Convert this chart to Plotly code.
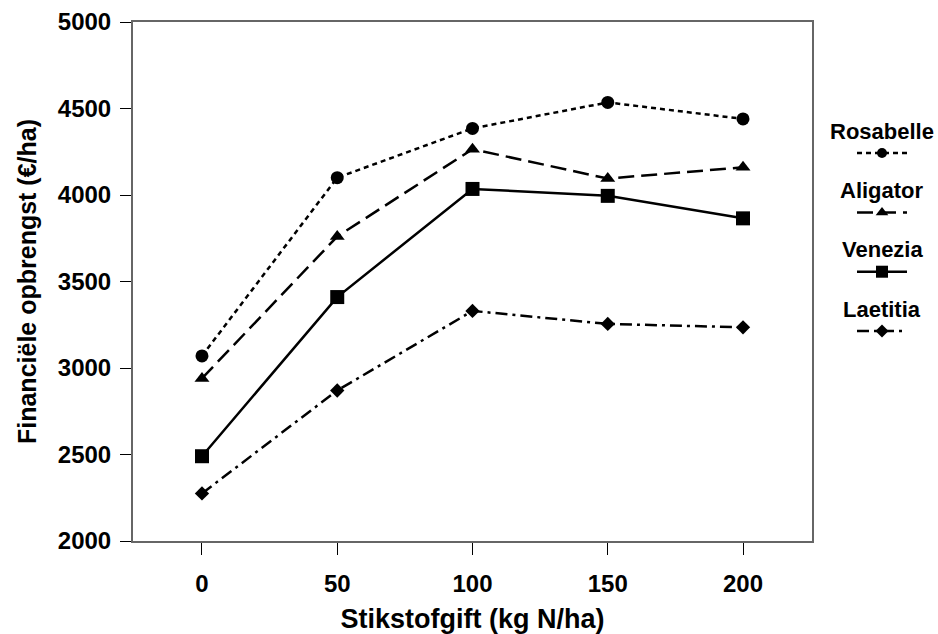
import plotly.graph_objects as go

# Nitrogen rates (kg N/ha) and financial yield per variety (EUR/ha)
stikstofgift = [0, 50, 100, 150, 200]
rasnamen = ["Rosabelle", "Aligator", "Venezia", "Laetitia"]
rosabelle = [3070, 4100, 4385, 4535, 4440]
aligator = [2940, 3760, 4265, 4095, 4160]
venezia = [2490, 3410, 4035, 3995, 3865]
laetitia = [2275, 2870, 3330, 3255, 3235]
y_ticks = [2000, 2500, 3000, 3500, 4000, 4500, 5000]

series = [rosabelle, aligator, venezia, laetitia]
styles = [
    dict(dash="5px,4px", symbol="circle", size=13, legsize=10),
    dict(dash="16px,7px", symbol="triangle-up", size=13, legsize=11),
    dict(dash="solid", symbol="square", size=14, legsize=12),
    dict(dash="12px,5px,3px,5px", symbol="diamond", size=11, legsize=10),
]

FONT = "Liberation Sans, Arial, sans-serif"
W, H = 938, 634
L, R, T, B = 133, 20, 22, 93
plot_w = W - L - R
main_right = 812
leg_left, leg_right = 857, 907

fig = go.Figure()

for name, vals, st in zip(rasnamen, series, styles):
    fig.add_trace(go.Scatter(
        x=stikstofgift, y=vals, name=name, mode="lines+markers",
        line=dict(color="black", width=2.5, dash=st["dash"]),
        marker=dict(symbol=st["symbol"], size=st["size"], color="black"),
        showlegend=False,
    ))

# Legend: name above a short line sample with the series marker
for i, (name, st) in enumerate(zip(rasnamen, styles)):
    fig.add_trace(go.Scatter(
        x=[0, 1], y=[i, i], mode="lines", xaxis="x2", yaxis="y2",
        line=dict(color="black", width=2.5, dash=st["dash"]),
        showlegend=False, hoverinfo="skip",
    ))
    fig.add_trace(go.Scatter(
        x=[0.5], y=[i], mode="markers", xaxis="x2", yaxis="y2",
        marker=dict(symbol=st["symbol"], size=st["legsize"], color="black"),
        showlegend=False, hoverinfo="skip",
    ))
    fig.add_annotation(
        x=0.5, y=i - 0.37, xref="x2", yref="y2", text=name, showarrow=False,
        font=dict(family=FONT, size=22, color="black", weight="bold"),
        xanchor="center", yanchor="middle",
    )

fig.update_layout(
    width=W, height=H,
    margin=dict(l=L, r=R, t=T, b=B, autoexpand=False),
    paper_bgcolor="white", plot_bgcolor="white",
    font=dict(family=FONT, color="black"),
    xaxis=dict(
        domain=[0, (main_right - L) / plot_w],
        range=[-25.5, 225.5],
        tickvals=stikstofgift,
        ticks="outside", ticklen=12, tickwidth=1, tickcolor="black",
        showline=True, linecolor="#666666", linewidth=2, mirror=True,
        showgrid=False, zeroline=False, automargin=False,
        tickfont=dict(family=FONT, size=24, color="black", weight="bold"),
        ticklabelstandoff=8,
        title=dict(text="Stikstofgift (kg N/ha)", standoff=28,
                   font=dict(family=FONT, size=27, color="black", weight="bold")),
    ),
    yaxis=dict(
        range=[2000, 5000],
        tickvals=y_ticks,
        ticks="outside", ticklen=11, tickwidth=1, tickcolor="black",
        showline=True, linecolor="#666666", linewidth=2, mirror=True,
        showgrid=False, zeroline=False, automargin=False,
        tickfont=dict(family=FONT, size=24, color="black", weight="bold"),
        ticklabelstandoff=4,
        title=dict(text="Financiële opbrengst (€/ha)", standoff=14,
                   font=dict(family=FONT, size=25, color="black", weight="bold")),
    ),
    xaxis2=dict(
        domain=[(leg_left - L) / plot_w, (leg_right - L) / plot_w],
        range=[0, 1], visible=False, anchor="y2",
    ),
    yaxis2=dict(
        domain=[0, 1], range=[6.54, -2.21], visible=False, anchor="x2",
    ),
)

fig.write_html("out.html")
